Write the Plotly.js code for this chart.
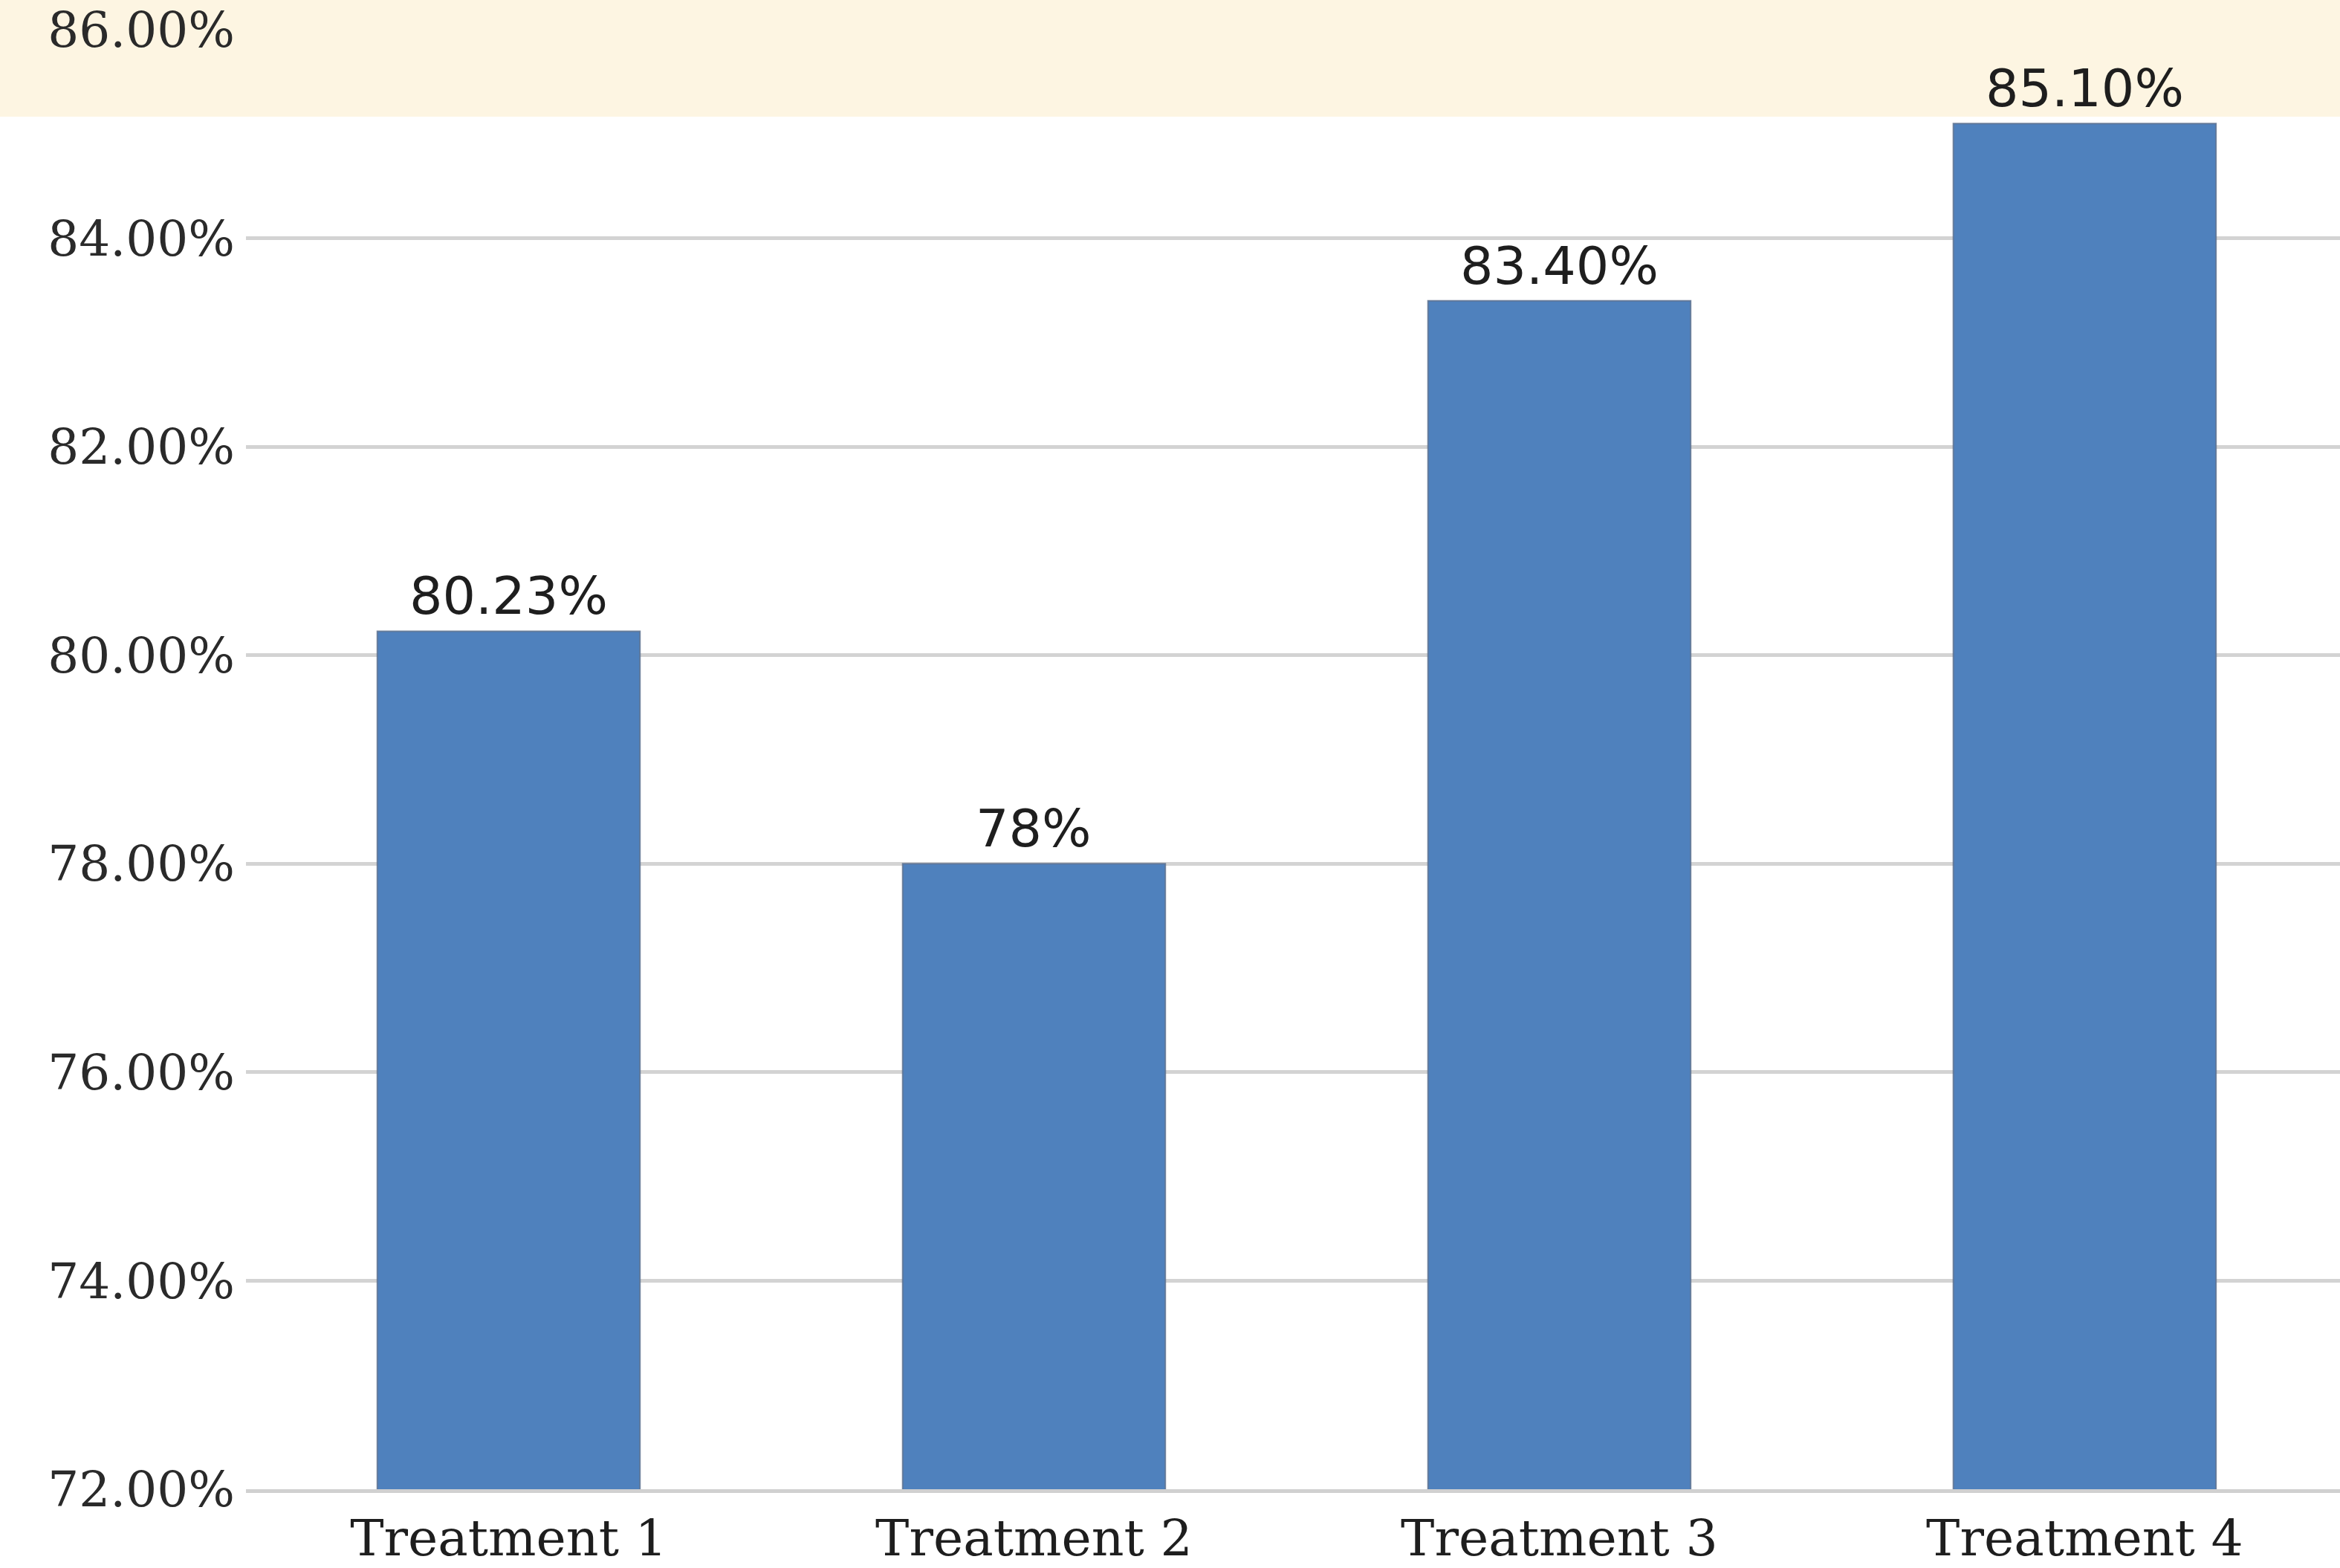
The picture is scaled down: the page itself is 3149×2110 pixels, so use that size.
<!DOCTYPE html>
<html>
<head>
<meta charset="utf-8">
<script src="https://cdn.plot.ly/plotly-3.0.1.min.js"></script>
<style>
  html, body { margin: 0; padding: 0; background: #ffffff; }
  #chart { width: 3149px; height: 2110px; }
</style>
</head>
<body>
<div id="chart"></div>
<script>
// Success rate per treatment (percent)
const categories = ["Treatment 1", "Treatment 2", "Treatment 3", "Treatment 4"];
const rates = [80.23, 78, 83.40, 85.10];
const rateLabels = ["80.23%", "78%", "83.40%", "85.10%"];
const yTicks = [72, 74, 76, 78, 80, 82, 84, 86];
const yTickLabels = ["72.00%", "74.00%", "76.00%", "78.00%", "80.00%", "82.00%", "84.00%", "86.00%"];

const W = 3149, H = 2110;
const marginL = 331, marginT = 40, marginB = 106;

const barTrace = {
  type: "bar",
  x: categories.map((_, i) => i),
  y: rates,
  width: 0.5,
  marker: {
    color: "#4f81bd",
    line: { color: "rgba(95,115,145,0.85)", width: 2 }
  },
  hoverinfo: "skip",
  showlegend: false
};

const labelAnnotations = categories.map((c, i) => ({
  x: i,
  y: rates[i],
  xref: "x",
  yref: "y",
  text: rateLabels[i],
  showarrow: false,
  yanchor: "bottom",
  yshift: 4,
  font: { family: "DejaVu Sans, Verdana, sans-serif", size: 70, color: "#1e1e1e" }
}));

const layout = {
  width: W,
  height: H,
  margin: { l: marginL, r: 0, t: marginT, b: marginB, pad: 0 },
  paper_bgcolor: "#ffffff",
  plot_bgcolor: "rgba(0,0,0,0)",
  showlegend: false,
  xaxis: {
    range: [-0.5, 3.486],
    tickmode: "array",
    tickvals: categories.map((_, i) => i),
    ticktext: categories,
    showgrid: false,
    zeroline: false,
    showline: true,
    linecolor: "rgba(150,150,150,0.45)",
    linewidth: 5,
    ticks: "",
    ticklabelstandoff: 2,
    tickfont: { family: "DejaVu Serif, Liberation Serif, serif", size: 68, color: "#1e1e1e" },
    fixedrange: true
  },
  yaxis: {
    range: [72, 86],
    tickmode: "array",
    tickvals: yTicks,
    ticktext: yTickLabels,
    showgrid: true,
    gridcolor: "rgba(150,150,150,0.42)",
    gridwidth: 5,
    zeroline: false,
    showline: false,
    ticks: "",
    ticklabelstandoff: 14,
    tickfont: { family: "DejaVu Serif, Liberation Serif, serif", size: 66, color: "#2a2a2a" },
    fixedrange: true
  },
  shapes: [
    {
      // cream header band across the top of the figure, lower edge 157px from the top
      type: "rect",
      xref: "paper",
      yref: "paper",
      x0: -0.2,
      x1: 1.05,
      y0: (H - marginB - 157) / (H - marginT - marginB),
      y1: 1.1,
      fillcolor: "#fdf5e2",
      line: { width: 0 },
      layer: "below"
    }
  ],
  annotations: labelAnnotations
};

Plotly.newPlot("chart", [barTrace], layout, { staticPlot: true, displayModeBar: false });
</script>
</body>
</html>
